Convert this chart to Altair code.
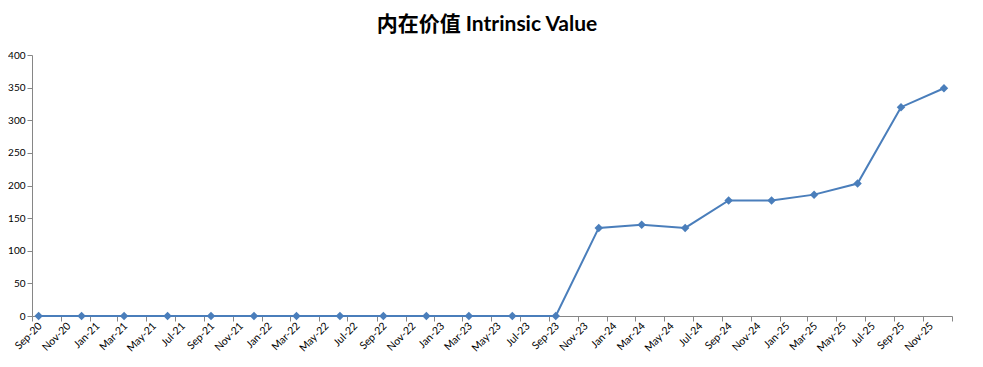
import altair as alt
import pandas as pd

dates = [
    "2020-09-15", "2020-12-15", "2021-03-15", "2021-06-15", "2021-09-15", "2021-12-15",
    "2022-03-15", "2022-06-15", "2022-09-15", "2022-12-15", "2023-03-15", "2023-06-15",
    "2023-09-15", "2023-12-15", "2024-03-15", "2024-06-15", "2024-09-15", "2024-12-15",
    "2025-03-15", "2025-06-15", "2025-09-15", "2025-12-15",
]
values = [
    0, 0, 0, 0, 0, 0,
    0, 0, 0, 0, 0, 0,
    0, 135, 140, 135, 177, 177,
    186, 203, 320, 349,
]

# Axis tick labels (every two months)
tick_labels = [
    "Sep-20", "Nov-20", "Jan-21", "Mar-21", "May-21", "Jul-21", "Sep-21", "Nov-21",
    "Jan-22", "Mar-22", "May-22", "Jul-22", "Sep-22", "Nov-22", "Jan-23", "Mar-23",
    "May-23", "Jul-23", "Sep-23", "Nov-23", "Jan-24", "Mar-24", "May-24", "Jul-24",
    "Sep-24", "Nov-24", "Jan-25", "Mar-25", "May-25", "Jul-25", "Sep-25", "Nov-25",
]
axis_end = "Jan-26"
y_ticks = [0, 50, 100, 150, 200, 250, 300, 350, 400]

df = pd.DataFrame({"date": dates, "value": values})


def to_dt(label):
    t = pd.to_datetime(label, format="%b-%y")
    return alt.DateTime(year=int(t.year), month=int(t.month), date=1, utc=True)


tick_values = [to_dt(l) for l in tick_labels] + [to_dt(axis_end)]

# label lookup built from the tick label list (index = months since first tick)
first = pd.to_datetime(tick_labels[0], format="%b-%y")
label_map = "{" + ",".join(
    "'%d':'%s'" % (
        (pd.to_datetime(l, format="%b-%y").year - first.year) * 12
        + pd.to_datetime(l, format="%b-%y").month - first.month,
        l,
    )
    for l in tick_labels
) + "}"
label_expr = (
    "(" + label_map + ")['' + ((utcyear(datum.value) - %d) * 12 + utcmonth(datum.value) - %d)] || ''"
    % (first.year, first.month - 1)
)

FONT = "Lato, 'Noto Sans CJK SC', sans-serif"
AXIS_GRAY = "#868686"
BLUE = "#4a7ebb"

chart = (
    alt.Chart(df)
    .mark_line(
        color=BLUE,
        strokeWidth=2,
        point=alt.OverlayMarkDef(shape="diamond", size=72, filled=True, color=BLUE),
    )
    .encode(
        x=alt.X(
            "date:T",
            scale=alt.Scale(type="utc", domain=[to_dt(tick_labels[0]), to_dt(axis_end)]),
            axis=alt.Axis(
                title=None,
                values=tick_values,
                labelExpr=label_expr,
                labelAngle=-45,
                labelAlign="right",
                labelBaseline="middle",
                labelOffset=8,
                labelFont=FONT,
                labelFontSize=10.5,
                labelColor="#000000",
                labelPadding=3,
                labelOverlap=False,
                tickSize=5,
                tickColor=AXIS_GRAY,
                domainColor=AXIS_GRAY,
                grid=False,
            ),
        ),
        y=alt.Y(
            "value:Q",
            scale=alt.Scale(domain=[0, 400], nice=False, zero=True),
            axis=alt.Axis(
                title=None,
                values=y_ticks,
                labelFont=FONT,
                labelFontSize=10,
                labelColor="#000000",
                labelPadding=2,
                tickSize=5,
                tickColor=AXIS_GRAY,
                domainColor=AXIS_GRAY,
                grid=False,
            ),
        ),
    )
    .properties(
        width=920,
        height=261,
        title=alt.TitleParams(
            text="内在价值 Intrinsic Value",
            font=FONT,
            fontSize=21,
            fontWeight="bold",
            color="#000000",
            anchor="middle",
            frame="group",
            offset=15,
            dx=-5,
        ),
        autosize=alt.AutoSizeParams(type="none"),
        padding={"left": 24, "top": 47, "right": 23, "bottom": 43},
    )
    .configure_view(stroke=None)
)

chart.save("out.html", embed_options={"renderer": "svg", "actions": False})
